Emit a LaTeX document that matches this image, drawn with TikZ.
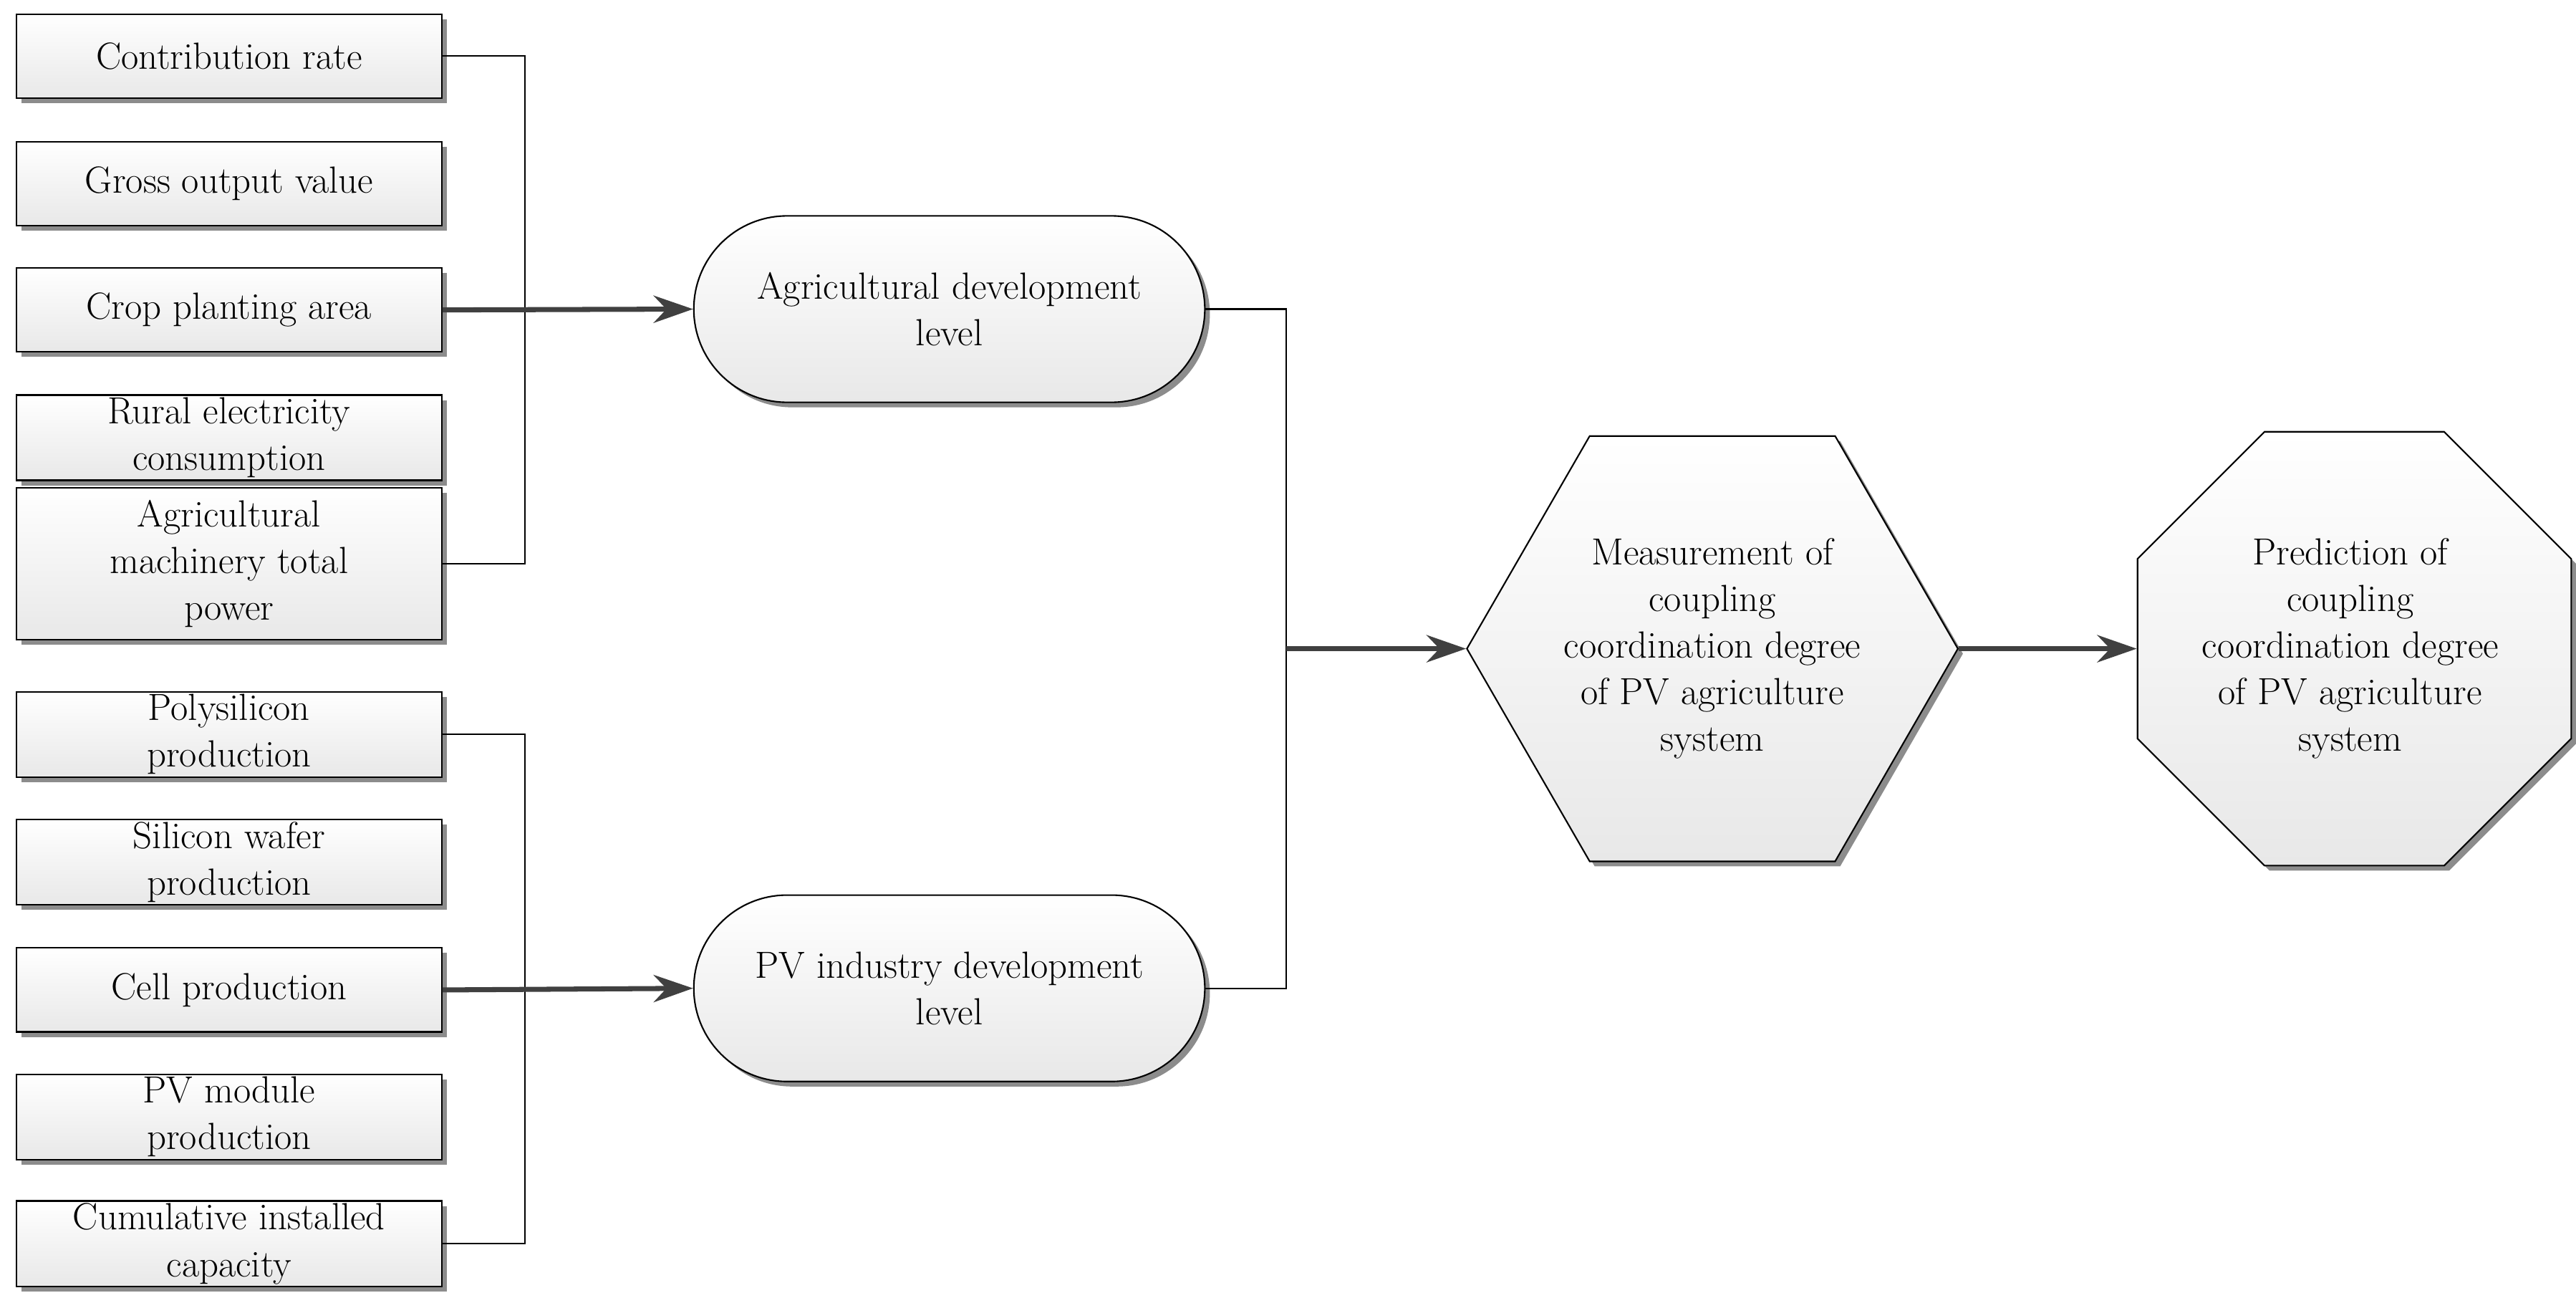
\documentclass[tikz,border=0pt]{standalone}
\usetikzlibrary{shapes.geometric,shadows,arrows.meta}
\begin{document}
\begin{tikzpicture}[x=0.023cm,y=-0.023cm,
  font=\fontsize{15}{18.5}\selectfont,
  shd/.style={drop shadow={shadow xshift=0.07cm,shadow yshift=-0.07cm,fill=black!45,opacity=1}},
  fl/.style={top color=white,bottom color=black!9,draw=black,line width=0.6pt},
  box/.style={fl,shd,minimum width=5.93cm,minimum height=1.17cm,align=center,inner sep=1pt},
  rbox/.style={fl,shd,rounded corners=1.3cm,minimum width=7.13cm,minimum height=2.6cm,align=center},
  ln/.style={line width=0.6pt,black},
  arr/.style={line width=2pt,black!75,-{Stealth[length=0.55cm,width=0.38cm]}}]
\useasboundingbox (0,0) rectangle (1563,790);
\node[box] (b1) at (139,34) {Contribution rate};
\node[box] (b2) at (139,111.5) {Gross output value};
\node[box] (b3) at (139,188) {Crop planting area};
\node[box] (b4) at (139,265.5) {Rural electricity\\consumption};
\node[box,minimum height=2.12cm] (b5) at (139,342) {Agricultural\\machinery total\\power};
\node[box] (c1) at (139,445.5) {Polysilicon\\production};
\node[box] (c2) at (139,523) {Silicon wafer\\production};
\node[box] (c3) at (139,600.5) {Cell production};
\node[box] (c4) at (139,677.5) {PV module\\production};
\node[box] (c5) at (139,754.5) {Cumulative installed\\capacity};
\node[rbox] (agr) at (576,187.5) {Agricultural development\\level};
\node[rbox] (pv) at (576,599.5) {PV industry development\\level};
\node[fl,shd,regular polygon,regular polygon sides=6,minimum size=6.85cm,inner sep=0pt] (hex) at (1039,393.5) {};
\node[align=center] (hext) at (1039,393.5) {Measurement of\\coupling\\coordination degree\\of PV agriculture\\system};
\node[fl,shd,regular polygon,regular polygon sides=8,minimum size=6.55cm,inner sep=0pt] (oct) at (1428.5,393.5) {};
\node[align=center] (octt) at (1426,393.5) {Prediction of\\coupling\\coordination degree\\of PV agriculture\\system};
\draw[ln] (b1.east) -- ++(50,0) |- (b5.east);
\draw[ln] (c1.east) -- ++(50,0) |- (c5.east);
\draw[arr] (b3.east) -- (agr.west);
\draw[arr] (c3.east) -- (pv.west);
\draw[ln] (agr.east) -- ++(49,0) coordinate (m) |- (pv.east);
\coordinate (j) at (m |- hex.west);
\draw[arr] (j) -- (hex.west);
\draw[arr] (hex.east) -- (oct.west);
\end{tikzpicture}
\end{document}
